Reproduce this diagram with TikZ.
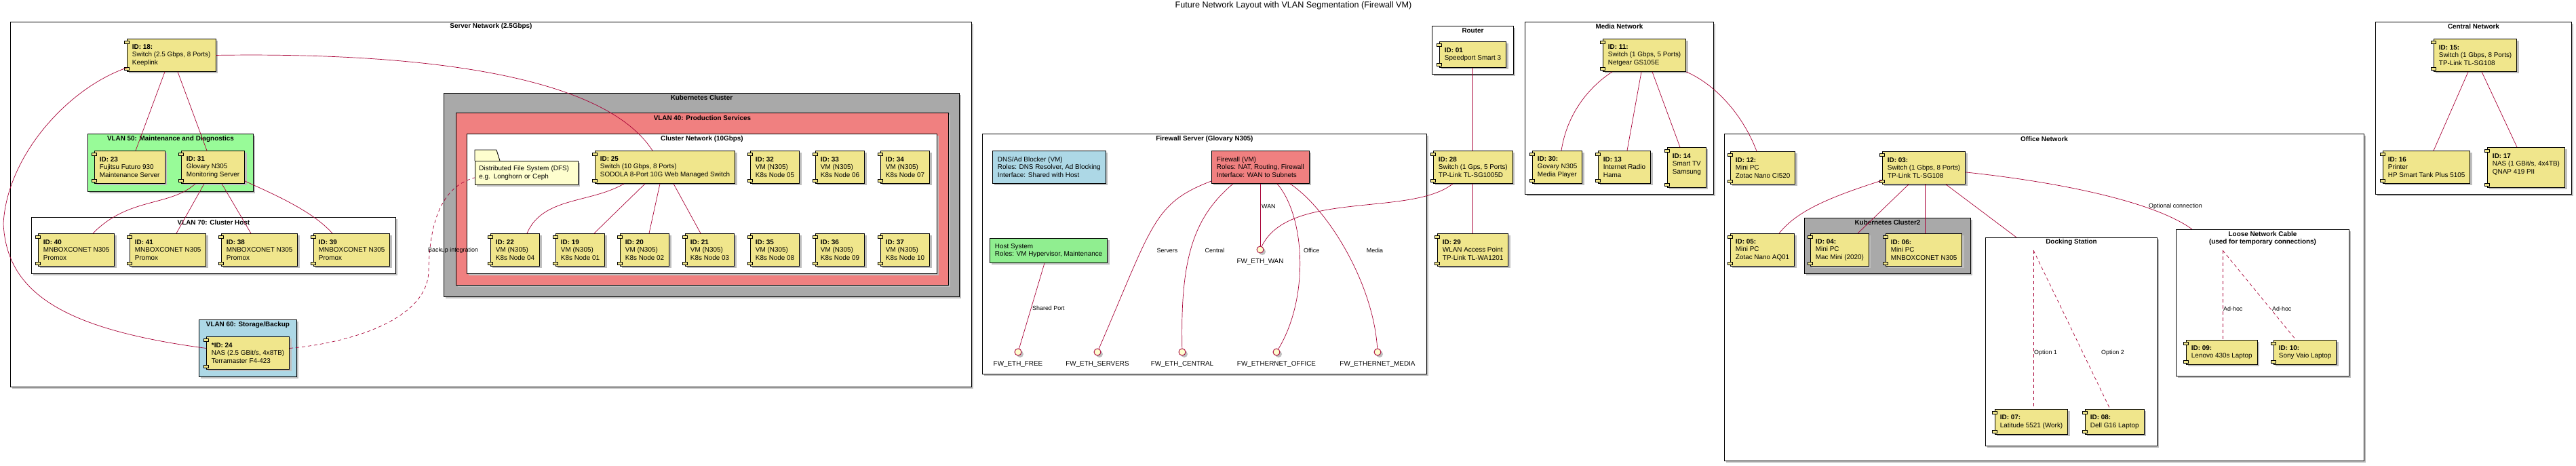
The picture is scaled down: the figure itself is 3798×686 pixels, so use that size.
\documentclass[tikz,border=0pt]{standalone}
\usepackage{fontspec}
\setmainfont{Liberation Sans}
\usetikzlibrary{shadows}

\definecolor{khaki}{HTML}{F0E68C}
\definecolor{palegreen}{HTML}{98FB98}
\definecolor{lightgreen}{HTML}{90EE90}
\definecolor{lightblue}{HTML}{ADD8E6}
\definecolor{darkgray}{HTML}{A9A9A9}
\definecolor{lightcoral}{HTML}{F08080}
\definecolor{ifill}{HTML}{FEFECE}
\definecolor{wire}{HTML}{A80036}

\newcommand\compfont{\fontsize{9.9}{11.3}\selectfont}
\newcommand\lblfont{\fontsize{8.9}{10.5}\selectfont}
\newcommand\ttlfont{\fontsize{9.9}{11.3}\selectfont\bfseries}

\begin{document}
\begin{tikzpicture}
[x=1pt, y=-1pt,
  boxShadow/.style={drop shadow={shadow xshift=3pt, shadow yshift=-3pt, fill=black!25, opacity=1}},
  cluster/.style={draw, line width=0.9pt, fill=white, anchor=north west, inner sep=0pt, boxShadow},
  ctitle/.style={font=\ttlfont, inner sep=0pt, align=center},
  comp/.style={draw, line width=0.9pt, fill=khaki, anchor=north west, align=left,
    inner xsep=7.5pt, inner ysep=0pt, minimum height=48pt, font=\compfont, boxShadow},
  vmbox/.style={comp},
  port/.style={draw, line width=0.7pt, fill=khaki},
  iface/.style={circle, draw=wire, fill=ifill, line width=0.9pt, minimum size=10pt, inner sep=0pt, boxShadow},
  wire/.style={draw=wire, line width=0.7pt},
  dashwire/.style={wire, dash pattern=on 5pt off 4pt},
  elabel/.style={font=\lblfont, inner sep=0pt},
  iflabel/.style={font=\compfont, inner sep=0pt}]
\useasboundingbox (0,0) rectangle (3798,686);

\node[font=\fontsize{12.6}{14}\selectfont, inner sep=0pt] (title) at (1907,8)
  {Future Network Layout with VLAN Segmentation (Firewall VM)};

%% clusters
\node[cluster, minimum width=1417, minimum height=538] (server) at (15,32) {};
\node[ctitle] at ([yshift=-7]server.north) {Server Network (2.5Gbps)};
\node[cluster, fill=palegreen, minimum width=244, minimum height=85] (vlan50) at (129,197) {};
\node[ctitle] at ([yshift=-8]vlan50.north) {VLAN 50: Maintenance and Diagnostics};
\node[cluster, minimum width=537, minimum height=83] (vlan70) at (46,320) {};
\node[ctitle] at ([yshift=-8]vlan70.north) {VLAN 70: Cluster Host};
\node[cluster, fill=lightblue, minimum width=144, minimum height=84] (vlan60) at (293,471) {};
\node[ctitle] at ([yshift=-8]vlan60.north) {VLAN 60: Storage/Backup};
\node[cluster, fill=darkgray, minimum width=760, minimum height=300] (k8s) at (654,137) {};
\node[ctitle] at ([yshift=-7]k8s.north) {Kubernetes Cluster};
\node[cluster, fill=lightcoral, minimum width=726, minimum height=254] (vlan40) at (672,166) {};
\node[ctitle] at ([yshift=-8]vlan40.north) {VLAN 40: Production Services};
\node[cluster, minimum width=693, minimum height=206] (cnet) at (688,197) {};
\node[ctitle] at ([yshift=-8]cnet.north) {Cluster Network (10Gbps)};
\node[cluster, minimum width=655, minimum height=354] (fwserver) at (1448,197) {};
\node[ctitle] at ([yshift=-8]fwserver.north) {Firewall Server (Glovary N305)};
\node[cluster, minimum width=120, minimum height=71] (router) at (2111,38) {};
\node[ctitle] at ([yshift=-7]router.north) {Router};
\node[cluster, minimum width=278, minimum height=254] (media) at (2248,32) {};
\node[ctitle] at ([yshift=-7]media.north) {Media Network};
\node[cluster, minimum width=943, minimum height=482] (office) at (2542,197) {};
\node[ctitle] at ([yshift=-8]office.north) {Office Network};
\node[cluster, fill=darkgray, minimum width=245, minimum height=82] (k8stwo) at (2660,321) {};
\node[ctitle] at ([yshift=-7]k8stwo.north) {Kubernetes Cluster2};
\node[cluster, minimum width=253, minimum height=307] (dock) at (2927,350) {};
\node[ctitle] at ([yshift=-7]dock.north) {Docking Station};
\node[cluster, minimum width=255, minimum height=216] (loose) at (3208,338) {};
\node[ctitle] at ([yshift=-13.5]loose.north) {Loose Network Cable\\(used for temporary connections)};
\node[cluster, minimum width=289, minimum height=254] (central) at (3502,32) {};
\node[ctitle] at ([yshift=-7]central.north) {Central Network};

%% server network
\node[comp] (n18) at (187,57) {\textbf{ID: 18:}\\Switch (2.5 Gbps, 8 Ports)\\Keeplink};
\node[comp] (n23) at (139,222) {\textbf{ID: 23}\\Fujitsu Futuro 930\\Maintenance Server};
\node[comp] (n31) at (267,222) {\textbf{ID: 31}\\Glovary N305\\Monitoring Server};
\foreach \id/\x in {40/56, 41/191, 38/326, 39/462}
{
  \node[comp] (n\id) at (\x,344) {\textbf{ID: \id}\\MNBOXCONET N305\\Promox};
}
\node[comp] (n24) at (304,496) {\textbf{*ID: 24}\\NAS (2.5 GBit/s, 4x8TB)\\Terramaster F4-423};
\node[draw, line width=0.9pt, fill=ifill, anchor=north west, align=left, text width=140pt,
  inner xsep=6pt, minimum height=35pt, font=\compfont, boxShadow] (dfs) at (700,237)
  {Distributed File System (DFS)\\e.g. Longhorn or Ceph};
\draw[line width=0.9pt, fill=ifill] (dfs.north west) -- ++(0,-16) -- ++(32,0) -- ++(5,16);
\node[comp] (n25) at (877,222) {\textbf{ID: 25}\\Switch (10 Gbps, 8 Ports)\\SODOLA 8-Port 10G Web Managed Switch};
\foreach \id/\k/\x in {32/05/1106, 33/06/1202, 34/07/1298}
{
  \node[comp] (n\id) at (\x,222) {\textbf{ID: \id}\\VM (N305)\\K8s Node \k};
}
\foreach \id/\k/\x in {22/04/723, 19/01/819, 20/02/914, 21/03/1010, 35/08/1106, 36/09/1202, 37/10/1298}
{
  \node[comp] (n\id) at (\x,344) {\textbf{ID: \id}\\VM (N305)\\K8s Node \k};
}

%% firewall server
\node[vmbox, fill=lightblue] (dns) at (1463,222) {DNS/Ad Blocker (VM)\\Roles: DNS Resolver, Ad Blocking\\Interface: Shared with Host};
\node[vmbox, fill=lightcoral] (fw) at (1786,222) {Firewall (VM)\\Roles: NAT, Routing, Firewall\\Interface: WAN to Subnets};
\node[vmbox, fill=lightgreen, minimum height=36] (host) at (1459,351) {Host System\\Roles: VM Hypervisor, Maintenance};
\foreach \nodename/\x/\y/\txt in {
  fwfree/1501/519/FW\_ETH\_FREE,
  fwservers/1618/519/FW\_ETH\_SERVERS,
  fwcentral/1743/519/FW\_ETH\_CENTRAL,
  fwoffice/1882/519/FW\_ETHERNET\_OFFICE,
  fwmedia/2031/519/FW\_ETHERNET\_MEDIA,
  fwwan/1858/368/FW\_ETH\_WAN}
{
  \node[iface] (\nodename) at (\x,\y) {};
  \node[iflabel] at ([yshift=-18]\nodename.center) {\txt};
}

%% router
\node[comp, minimum height=38] (n01) at (2122,61) {\textbf{ID: 01}\\Speedport Smart 3};
\node[comp] (n28) at (2113,222) {\textbf{ID: 28}\\Switch (1 Gps, 5 Ports)\\TP-Link TL-SG1005D};
\node[comp] (n29) at (2119,344) {\textbf{ID: 29}\\WLAN Access Point\\TP-Link TL-WA1201};

%% media network
\node[comp] (n11) at (2363,57) {\textbf{ID: 11:}\\Switch (1 Gbps, 5 Ports)\\Netgear GS105E};
\node[comp] (n30) at (2259,222) {\textbf{ID: 30:}\\Govary N305\\Media Player};
\node[comp] (n13) at (2356,222) {\textbf{ID: 13}\\Internet Radio\\Hama};
\node[comp, minimum height=59] (n14) at (2458,217) {\textbf{ID: 14}\\Smart TV\\Samsung\\~};

%% office network
\node[comp] (n12) at (2551,223) {\textbf{ID: 12:}\\Mini PC\\Zotac Nano CI520};
\node[comp] (n03) at (2775,223) {\textbf{ID: 03:}\\Switch (1 Gbps, 8 Ports)\\TP-Link TL-SG108};
\node[comp] (n05) at (2551,344) {\textbf{ID: 05:}\\Mini PC\\Zotac Nano AQ01};
\node[comp] (n04) at (2669,344) {\textbf{ID: 04:}\\Mini PC\\Mac Mini (2020)};
\node[comp] (n06) at (2780,344) {\textbf{ID: 06:}\\Mini PC\\MNBOXCONET N305};
\node[comp, minimum height=37] (n07) at (2941,603) {\textbf{ID: 07:}\\Latitude 5521 (Work)};
\node[comp, minimum height=37] (n08) at (3074,603) {\textbf{ID: 08:}\\Dell G16 Laptop};
\node[comp, minimum height=36] (n09) at (3223,501) {\textbf{ID: 09:}\\Lenovo 430s Laptop};
\node[comp, minimum height=36] (n10) at (3352,501) {\textbf{ID: 10:}\\Sony Vaio Laptop};
\coordinate (dockpt) at (2998,369);
\coordinate (loosept) at (3277,369);

%% central network
\node[comp] (n15) at (3588,57) {\textbf{ID: 15:}\\Switch (1 Gbps, 8 Ports)\\TP-Link TL-SG108};
\node[comp] (n16) at (3513,222) {\textbf{ID: 16}\\Printer\\HP Smart Tank Plus 5105};
\node[comp, minimum height=59] (n17) at (3667,217) {\textbf{ID: 17}\\NAS (1 GBit/s, 4x4TB)\\QNAP 419 PII\\~};

%% ports on the left edge
\foreach \n in {n18,n23,n31,n40,n41,n38,n39,n24,n25,n32,n33,n34,n22,n19,n20,n21,n35,n36,n37,
  n01,n28,n29,n11,n30,n13,n14,n12,n03,n05,n04,n06,n07,n08,n09,n10,n15,n16,n17}
{
  \draw[port] ([yshift=-5pt]\n.north west) ++(-3.5,-2) rectangle ++(7,4);
  \draw[port] ([yshift=5pt]\n.south west) ++(-3.5,-2) rectangle ++(7,4);
}

%% straight links
\path
\foreach \a/\sa/\b/\sb in {n18/56/n23/61, n18/75/n31/38, n31/34/n41/69, n31/60/n38/44,
  n25/74/n19/57, n25/96/n20/43, n25/116/n21/23, n01/49/n28/58, n28/58/n29/52,
  n11/57/n13/43, n11/73/n14/19, n15/51/n16/75, n15/71/n17/44,
  n03/39/n04/70, n03/63/n06/58, n03/94/dock/46}
{
  ([xshift=\sa]\a.south west) edge[wire] ([xshift=\sb]\b.north west)
};

%% curved links
\draw[wire] ([yshift=6]n18.south west) .. controls (100,130) and (10,230) .. (5,330)
  .. controls (10,430) and (90,485) .. ([yshift=7]n24.west);
\draw[wire] (n18.east) .. controls (550,78) and (880,95) .. ([xshift=85]n25.north west);
\draw[wire] ([xshift=21]n31.south west) .. controls (250,305) and (190,290) .. ([xshift=81]n40.north west);
\draw[wire] ([yshift=4]n31.south east) .. controls (400,285) and (460,310) .. ([xshift=28]n39.north west);
\draw[wire] ([xshift=43]n25.south west) .. controls (870,300) and (800,290) .. ([xshift=54]n22.north west);
\draw[dashwire] ([yshift=7]n24.east) .. controls (520,505) and (630,470) .. (632,400)
  .. controls (633,330) and (650,275) .. ([yshift=-7]dfs.west);
\node[elabel, anchor=west] at (631,369) {Backup integration};

\draw[wire] ([xshift=81]host.south west) -- (fwfree);
\node[elabel, anchor=west] at (1522,454) {Shared Port};
\draw[wire] ([yshift=4]fw.south west) .. controls (1700,300) and (1700,330) .. (fwservers);
\node[elabel] at (1721,369) {Servers};
\draw[wire] ([xshift=32]fw.south west) .. controls (1760,320) and (1740,380) .. (fwcentral);
\node[elabel] at (1791,369) {Central};
\draw[wire] ([xshift=72]fw.south west) -- (fwwan);
\node[elabel, anchor=west] at (1860,304) {WAN};
\draw[wire] ([xshift=97]fw.south west) .. controls (1925,320) and (1930,440) .. (fwoffice);
\node[elabel, anchor=west] at (1922,369) {Office};
\draw[wire] ([xshift=116]fw.south west) .. controls (1960,310) and (2025,420) .. (fwmedia);
\node[elabel] at (2027,369) {Media};
\draw[wire] ([xshift=29]n28.south west) .. controls (2080,320) and (1900,280) .. (fwwan);

\draw[wire] ([xshift=14]n11.south west) .. controls (2340,130) and (2310,170) .. ([xshift=43]n30.north west);
\draw[wire] (n11.south east) .. controls (2530,125) and (2570,170) .. ([xshift=39]n12.north west);

\draw[wire] ([yshift=6]n03.south west) .. controls (2700,290) and (2650,310) .. ([xshift=72]n05.north west);
\draw[wire] ([yshift=18]n03.south east) .. controls (3050,270) and (3180,300) .. ([xshift=24]loose.north west);
\node[elabel, anchor=west] at (3168,304) {Optional connection};

%% dashed links
\draw[dashwire] (dockpt) -- ([xshift=57]n07.north west);
\node[elabel, anchor=west] at (2999,520) {Option 1};
\draw[dashwire] (dockpt) -- ([xshift=37]n08.north west);
\node[elabel] at (3115,520) {Option 2};
\draw[dashwire] (loosept) -- ([xshift=54]n09.north west);
\node[elabel, anchor=west] at (3278,455) {Ad-hoc};
\draw[dashwire] (loosept) -- ([xshift=33]n10.north west);
\node[elabel, anchor=west] at (3350,455) {Ad-hoc};
\end{tikzpicture}
\end{document}
